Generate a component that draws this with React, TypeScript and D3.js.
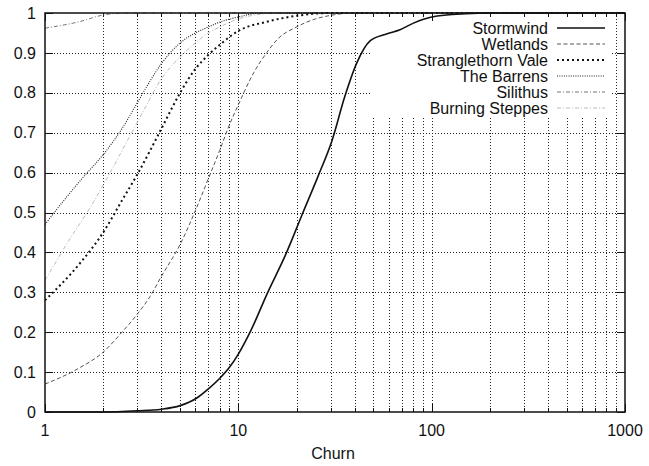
import React from "react";
import * as d3 from "d3";

type Pt = [number, number];

const stormwind: Pt[] = [[1, 0], [2, 0], [3, 0.003], [4, 0.007], [5, 0.016], [6.1, 0.035], [7, 0.058], [8, 0.084], [9, 0.112], [10, 0.145], [11.5, 0.2], [14.2, 0.3], [17.4, 0.39], [21.6, 0.5], [25.8, 0.59], [30.5, 0.68], [35.5, 0.79], [41, 0.875], [48, 0.93], [58, 0.947], [68.6, 0.958], [80, 0.974], [100, 0.99], [150, 0.998], [200, 1], [1000, 1]];
const wetlands: Pt[] = [[1, 0.07], [1.5, 0.11], [2, 0.15], [2.5, 0.2], [3, 0.245], [3.5, 0.29], [4, 0.34], [5, 0.42], [6, 0.505], [7, 0.585], [8, 0.655], [9, 0.72], [10, 0.77], [12, 0.85], [14, 0.9], [16, 0.935], [20, 0.965], [25, 0.985], [30, 0.994], [40, 1], [1000, 1]];
const stranglethorn: Pt[] = [[1, 0.28], [1.5, 0.37], [2, 0.45], [2.5, 0.53], [3, 0.595], [4, 0.71], [5, 0.8], [6, 0.86], [7, 0.895], [8, 0.92], [10, 0.955], [14, 0.978], [20, 0.993], [30, 1], [1000, 1]];
const barrens: Pt[] = [[1, 0.47], [1.3, 0.54], [1.6, 0.592], [2, 0.645], [2.5, 0.71], [3, 0.775], [3.5, 0.83], [4, 0.873], [4.5, 0.903], [5, 0.925], [6, 0.95], [7, 0.965], [8, 0.977], [10, 0.99], [13, 1], [1000, 1]];
const silithus: Pt[] = [[1, 0.962], [1.5, 0.978], [2, 0.995], [2.6, 1], [1000, 1]];
const burningSteppes: Pt[] = [[1, 0.33], [1.33, 0.43], [1.75, 0.52], [2.2, 0.605], [2.6, 0.67], [3.25, 0.757], [4, 0.835], [5, 0.89], [6, 0.925], [7, 0.95], [8, 0.965], [10, 0.985], [13, 0.997], [16, 1], [1000, 1]];

const seriesNames = ["Stormwind", "Wetlands", "Stranglethorn Vale", "The Barrens", "Silithus", "Burning Steppes"];
const seriesData = [stormwind, wetlands, stranglethorn, barrens, silithus, burningSteppes];
const xTickLabels = ["1", "10", "100", "1000"];
const yTickValues = [0, 0.1, 0.2, 0.3, 0.4, 0.5, 0.6, 0.7, 0.8, 0.9, 1];

const styles = [
  { stroke: "#111", width: 1.6, dash: "" },
  { stroke: "#555", width: 1, dash: "4,2.5" },
  { stroke: "#111", width: 2, dash: "2,3" },
  { stroke: "#222", width: 1.1, dash: "1,1.3" },
  { stroke: "#777", width: 1, dash: "4,2,1,2" },
  { stroke: "#bbb", width: 1, dash: "4,2,1,2" },
];

const W = 649;
const H = 466;
const left = 45;
const right = 625;
const top = 13;
const bottom = 412;
const font = "'Liberation Sans', Arial, Helvetica, sans-serif";

export default function App() {
  const x = d3.scaleLog().domain([1, 1000]).range([left, right]);
  const y = d3.scaleLinear().domain([0, 1]).range([bottom, top]);

  const minor: number[] = [];
  for (const dec of [1, 10, 100]) {
    for (let m = 1; m <= 9; m++) minor.push(dec * m);
  }
  minor.push(1000);

  const line = d3
    .line<Pt>()
    .x((d) => x(d[0]))
    .y((d) => y(d[1]))
    .curve(d3.curveMonotoneX);

  const legendBox = { x0: 371, x1: 611, y0: 14, y1: 118 };
  const legendTextX = 548;
  const legendBase = 33.5;
  const legendStep = 16;

  return (
    <svg
      width={W}
      height={H}
      style={{ position: "absolute", left: 0, top: 0, background: "#fff" }}
      fontFamily={font}
    >
      <rect x={0} y={0} width={W} height={H} fill="#fff" />
      {/* grid */}
      <g stroke="#222" strokeWidth={1} strokeDasharray="1,2">
        {minor
          .filter((v) => v > 1 && v < 1000)
          .map((v) => (
            <line key={"gx" + v} x1={Math.round(x(v)) + 0.5} x2={Math.round(x(v)) + 0.5} y1={top} y2={bottom} />
          ))}
        {yTickValues
          .filter((v) => v > 0 && v < 1)
          .map((v) => (
            <line key={"gy" + v} x1={left} x2={right} y1={Math.round(y(v)) + 0.5} y2={Math.round(y(v)) + 0.5} />
          ))}
      </g>
      {/* key background */}
      <rect
        x={legendBox.x0}
        y={legendBox.y0}
        width={legendBox.x1 - legendBox.x0}
        height={legendBox.y1 - legendBox.y0}
        fill="#fff"
      />
      {/* ticks on all four borders */}
      <g stroke="#111" strokeWidth={1}>
        {minor.map((v) => {
          const len = [1, 10, 100, 1000].includes(v) ? 8 : 4;
          const px = Math.round(x(v)) + 0.5;
          return (
            <g key={"tx" + v}>
              <line x1={px} x2={px} y1={bottom} y2={bottom - len} />
              <line x1={px} x2={px} y1={top} y2={top + len} />
            </g>
          );
        })}
        {yTickValues.map((v) => {
          const py = Math.round(y(v)) + 0.5;
          return (
            <g key={"ty" + v}>
              <line x1={left} x2={left + 8} y1={py} y2={py} />
              <line x1={right} x2={right - 8} y1={py} y2={py} />
            </g>
          );
        })}
      </g>
      {/* curves */}
      <defs>
        <clipPath id="plot-clip">
          <rect x={left} y={top - 2} width={right - left} height={bottom - top + 4} />
        </clipPath>
      </defs>
      <g clipPath="url(#plot-clip)" fill="none">
        {seriesData
          .map((d, i) => ({ d, i }))
          .reverse()
          .map(({ d, i }) => (
            <path
              key={seriesNames[i]}
              d={line(d) || ""}
              stroke={styles[i].stroke}
              strokeWidth={styles[i].width}
              strokeDasharray={styles[i].dash || undefined}
            />
          ))}
      </g>
      {/* border */}
      <rect x={left} y={top} width={right - left} height={bottom - top} fill="none" stroke="#111" strokeWidth={1.5} />
      {/* y labels */}
      <g fontSize={16} textAnchor="end" fill="#111">
        {yTickValues.map((v) => (
          <text key={"yl" + v} x={36} y={y(v)} dy="0.35em">
            {String(v)}
          </text>
        ))}
      </g>
      {/* x labels */}
      <g fontSize={16} textAnchor="middle" fill="#111">
        {xTickLabels.map((t) => (
          <text key={"xl" + t} x={x(+t)} y={436}>
            {t}
          </text>
        ))}
      </g>
      <text x={333} y={459} fontSize={16} textAnchor="middle" fill="#111">
        Churn
      </text>
      {/* key */}
      <g fontSize={16} fill="#111">
        {seriesNames.map((name, i) => {
          const base = legendBase + i * legendStep;
          return (
            <g key={"lg" + name}>
              <text x={legendTextX} y={base} textAnchor="end">
                {name}
              </text>
              <line
                x1={557}
                x2={605}
                y1={base - 5.5}
                y2={base - 5.5}
                stroke={styles[i].stroke}
                strokeWidth={styles[i].width}
                strokeDasharray={styles[i].dash || undefined}
              />
            </g>
          );
        })}
      </g>
    </svg>
  );
}
